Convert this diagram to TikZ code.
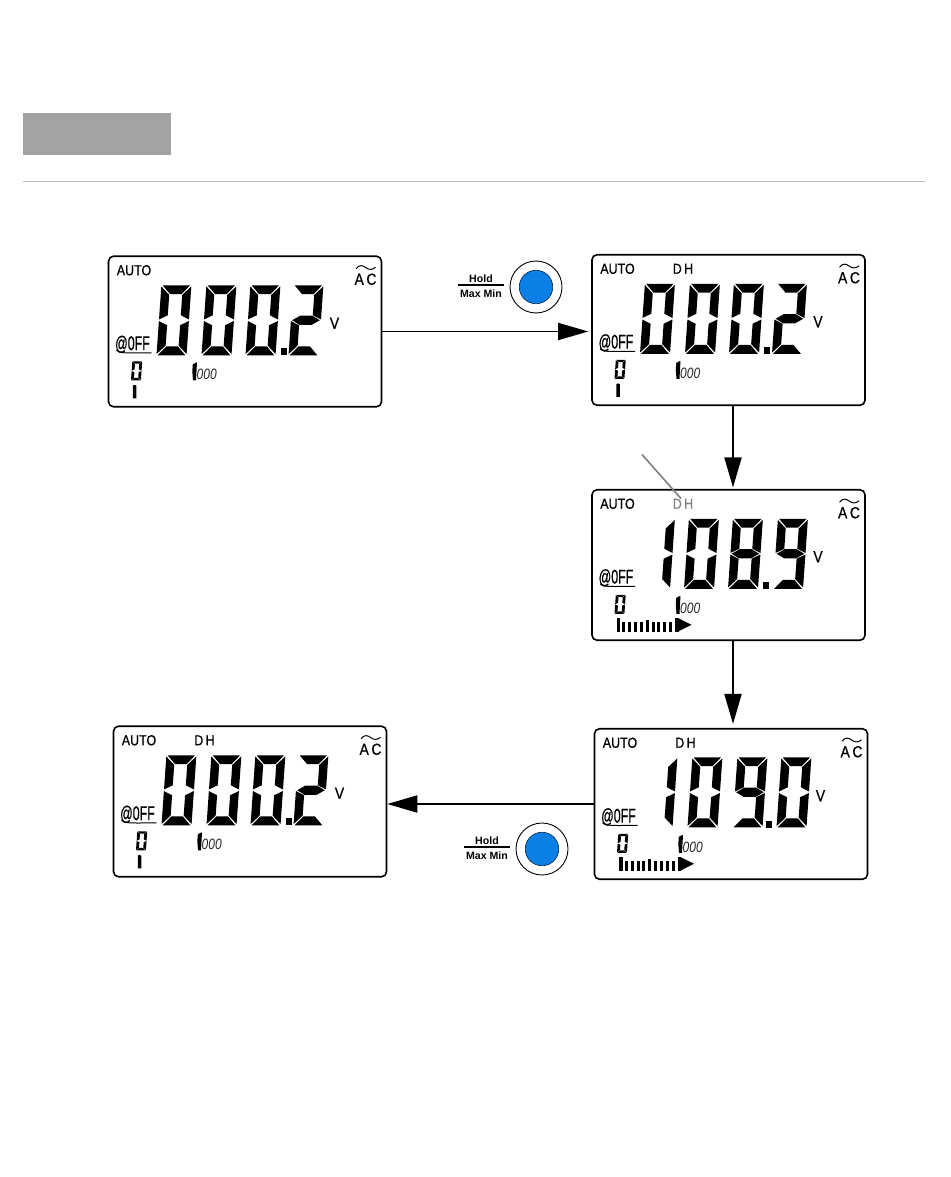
\documentclass[tikz,border=0pt]{standalone}
\usepackage{fontspec}
\setmainfont{Liberation Sans}
\newfontfamily\lcdfont[FakeStretch=.86,FakeBold=.6]{Liberation Sans}
\newfontfamily\offfont[FakeStretch=.62,FakeBold=.6]{Liberation Sans}
\newfontfamily\kfont[FakeStretch=.8]{Liberation Sans}
\usetikzlibrary{arrows.meta}
\definecolor{btnblue}{HTML}{0A7FE6}
\definecolor{hdrgray}{HTML}{A3A3A3}
\definecolor{rulegray}{HTML}{BEBEBE}
\definecolor{dhgray}{HTML}{808080}
\tikzset{
  lcdpanel/.style={draw=black,fill=white,line width=1.6pt,rounded corners=5pt,minimum width=273pt,minimum height=150.5pt,inner sep=0pt},
  lcdtext/.style={inner sep=0pt,font=\lcdfont\fontsize{14.5}{14.5}\selectfont},
  offtext/.style={inner sep=0pt,font=\offfont\fontsize{20}{20}\selectfont},
  smalltext/.style={inner sep=0pt,text=black!85,font=\kfont\itshape\fontsize{15}{15}\selectfont},
  btntext/.style={inner sep=0pt,font=\bfseries\fontsize{10.6}{10.6}\selectfont},
  flow/.style={draw=black,line width=1.9pt,-{Triangle[length=30pt,width=17pt]}},
}
% segments of a 30 x 70 digit, y upward
\newcommand\lcdsega{\fill (1.2,70)--(28.8,70)--(20.8,61.2)--(9.2,61.2)--cycle;}
\newcommand\lcdsegb{\fill (30,68.8)--(21.5,60.3)--(21.5,40)--(30,35.8)--cycle;}
\newcommand\lcdsegc{\fill (30,34.2)--(21.5,30)--(21.5,9.7)--(30,1.2)--cycle;}
\newcommand\lcdsegd{\fill (1.2,0)--(28.8,0)--(20.8,8.8)--(9.2,8.8)--cycle;}
\newcommand\lcdsege{\fill (0,1.2)--(8.5,9.7)--(8.5,30)--(0,34.2)--cycle;}
\newcommand\lcdsegf{\fill (0,35.8)--(8.5,40)--(8.5,60.3)--(0,68.8)--cycle;}
\newcommand\lcdsegg{\fill (1.2,35)--(9,39.6)--(21,39.6)--(28.8,35)--(21,30.4)--(9,30.4)--cycle;}
\newcommand\lcddig[4][]{\begin{scope}[shift={(#2,#3)},x=1pt,y=1pt,xslant=.07,#1]
  \foreach \s in {#4}{\csname lcdseg\s\endcsname}\end{scope}}
\newcommand\lcddot[1]{\fill (#1,92)rectangle(#1+6,99);}
\newcommand\lcdvone{\fill (24.3,129.5)--(26,128.5)--(27.8,129.5)--(27.8,142)--(24.3,142)--cycle;}
\newcommand\lcdbars{%
  \foreach \i/\t in {0/128,1/132.5,2/132.5,3/132.5,4/132.5,5/130,6/132.5,7/132.5,8/132.5,9/132.5,10/128}{%
    \fill ({24.5+5.85*\i},\t) rectangle ({24.5+5.85*\i+(\t==128?3.6:3)},142);}
  \fill (85.5,128)--(85.5,142)--(99.5,135)--cycle;}
\newcommand\lcddh[2]{\node[lcdtext,text=#2] (#1-dh) at (91,14) {D\,H};}
% name, cx, cy, contents
\newcommand\lcd[4]{%
  \node[lcdpanel] (#1) at (#2,#3) {};
  \begin{scope}[shift={(#2-136.5,#3-75.25)}]
    \node[lcdtext] (#1-auto) at (25.5,14) {AUTO};
    \node[inner sep=0pt,font=\lcdfont\fontsize{16}{16}\selectfont] (#1-ac) at (257,23) {A\,C};
    \draw[line width=1pt] (247.5,12.5) .. controls (251,8) and (254,9) .. (257.5,11.5) .. controls (260,13.5) and (264,14) .. (267,11);
    \node[inner sep=0pt,font=\lcdfont\fontsize{16}{16}\selectfont] (#1-v) at (226,67) {V};
    \node[offtext] (#1-off) at (24,88) {@0FF};
    \draw[line width=1pt] (8,94) .. controls (10,97) and (16,97) .. (43,96.5);
    \lcddig[xscale=.33,yscale=.27]{22.5}{124}{a,b,c,d,e,f}
    \fill (84.3,108)--(88.5,106)--(87.5,124)--(84.5,124)--(83.8,115)--cycle;
    \node[smalltext,anchor=west] (#1-k) at (88,118.5) {000};
    #4
  \end{scope}}
\newcommand\lcdbutton[3]{%
  \begin{scope}[shift={(#2,#3)}]
    \node[btntext] (#1-hold) at (481,278.5) {Hold};
    \node[btntext] (#1-max) at (481,293.5) {Max Min};
    \draw[line width=1.2pt] (458,285) -- (503.5,285);
    \node[draw=black,fill=white,circle,line width=.9pt,minimum size=52pt,inner sep=0pt] (#1-ring) at (536,287) {};
    \node[draw=black!70!btnblue,fill=btnblue,circle,line width=.6pt,minimum size=33.5pt,inner sep=0pt] (#1-cap) at (536,287) {};
  \end{scope}}
\begin{document}
\begin{tikzpicture}[x=1pt,y=-1pt]
\useasboundingbox (0,0) rectangle (950,1177);
\fill[white] (0,0) rectangle (950,1177);
\node[fill=hdrgray,minimum width=148pt,minimum height=42pt,inner sep=0pt] (hdr) at (97,134) {};
\coordinate (ruleL) at (23,181.5);
\coordinate (ruleR) at (925,181.5);
\draw[rulegray,line width=1pt] (ruleL) -- (ruleR);

\lcd{p1}{245}{331.5}{%
  \lcddig{48}{99}{a,b,c,d,e,f}\lcddig{93}{99}{a,b,c,d,e,f}\lcddig{137}{99}{a,b,c,d,e,f}
  \lcddot{172}\lcddig{180}{99}{a,b,g,e,d}\lcdvone}
\lcd{p2}{728.5}{330}{%
  \lcddh{p2}{black}
  \lcddig{48}{99}{a,b,c,d,e,f}\lcddig{93}{99}{a,b,c,d,e,f}\lcddig{137}{99}{a,b,c,d,e,f}
  \lcddot{172}\lcddig{180}{99}{a,b,g,e,d}\lcdvone}
\lcd{p3}{728.5}{565}{%
  \lcddh{p3}{dhgray}
  \lcddig{48}{99}{b,c}\lcddig{92}{99}{a,b,c,d,e,f}\lcddig{136}{99}{a,b,c,d,e,f,g}
  \lcddot{171}\lcddig{181}{99}{a,b,c,d,f,g}\lcdbars}
\lcd{p4}{731}{804}{%
  \lcddh{p4}{black}
  \lcddig{48}{98.5}{b,c}\lcddig{93}{98.5}{a,b,c,d,e,f}\lcddig{138}{98.5}{a,b,c,d,f,g}
  \lcddot{171}\lcddig{182}{98.5}{a,b,c,d,e,f}\lcdbars}
\lcd{p5}{250}{801.5}{%
  \lcddh{p5}{black}
  \lcddig{48}{99}{a,b,c,d,e,f}\lcddig{93}{99}{a,b,c,d,e,f}\lcddig{137}{99}{a,b,c,d,e,f}
  \lcddot{172}\lcddig{180}{99}{a,b,g,e,d}\lcdvone}

\lcdbutton{b1}{0}{0}
\lcdbutton{b2}{6}{562}

\draw[flow] (p1.east) -- ([xshift=-3pt]p2.west |- p1.east);
\draw[flow] ([xshift=4.5pt]p2.south) -- ([xshift=4.5pt,yshift=1.5pt]p3.north);
\draw[flow] ([xshift=4.5pt]p3.south) -- ([xshift=2pt,yshift=4pt]p4.north);
\draw[flow] (p4.west) -- (p5.east |- p4.west);
\coordinate (callout) at (642,454.5);
\draw[dhgray,line width=1.6pt] (callout) -- ([xshift=-2pt]p3-dh.north);
\end{tikzpicture}
\end{document}
